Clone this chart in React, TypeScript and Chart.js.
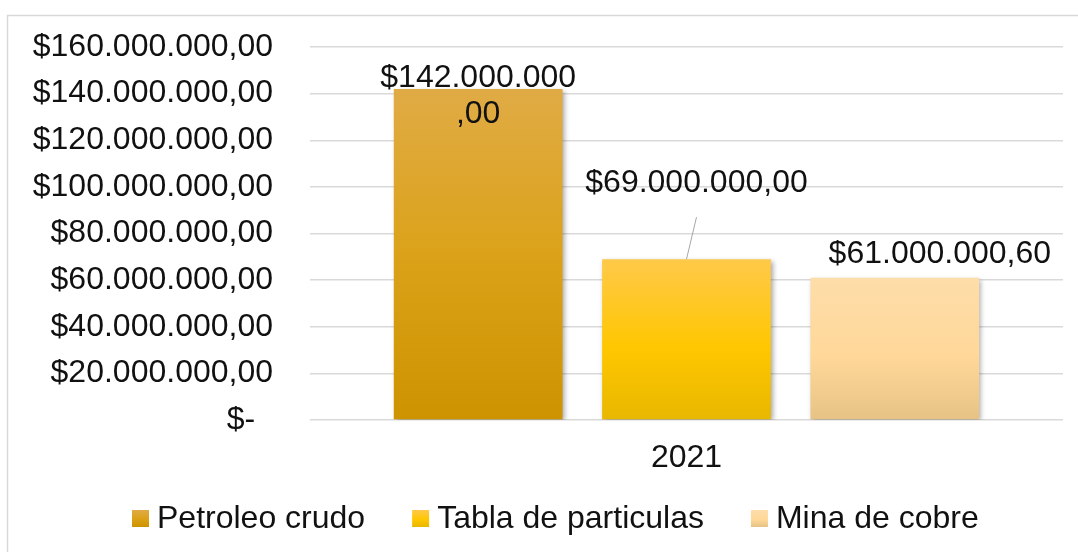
import React, { useEffect, useRef } from "react";
import { Chart, registerables } from "chart.js";

Chart.register(...registerables);

const categories = ["2021"];
const seriesNames = ["Petroleo crudo", "Tabla de particulas", "Mina de cobre"];
const petroleoValues = [142000000];
const tablaValues = [69000000];
const minaValues = [61000000.6];
const yMin = 0;
const yMax = 160000000;
const yStep = 20000000;

const gradientStops: [number, string][][] = [
  [[0, "#E0AB45"], [0.5, "#DBA219"], [1, "#CD9300"]],
  [[0, "#FFC94A"], [0.55, "#FFC700"], [1, "#E8B700"]],
  [[0, "#FDDDA9"], [0.55, "#FFD899"], [1, "#E6C385"]],
];

const FONT = "'Liberation Sans', Arial, sans-serif";

function formatMoney(v: number): string {
  if (v === 0) return "$-  ";
  const [intPart, dec] = v.toFixed(2).split(".");
  const grouped = intPart.replace(/\B(?=(\d{3})+(?!\d))/g, ".");
  return "$" + grouped + "," + dec;
}

function makeGradient(ctx: CanvasRenderingContext2D, top: number, bottom: number, i: number) {
  const g = ctx.createLinearGradient(0, top, 0, bottom);
  gradientStops[i].forEach(([o, c]) => g.addColorStop(o, c));
  return g;
}

const borderPlugin = {
  id: "outerBorder",
  beforeDraw(chart: any) {
    const ctx = chart.ctx;
    ctx.save();
    ctx.strokeStyle = "#d9d9d9";
    ctx.lineWidth = 1.5;
    ctx.strokeRect(7.5, 15.5, 1200, 700);
    ctx.restore();
  },
};

const shadowPlugin = {
  id: "barShadow",
  beforeDatasetDraw(chart: any) {
    const ctx = chart.ctx;
    ctx.save();
    ctx.shadowColor = "rgba(0,0,0,0.35)";
    ctx.shadowBlur = 5;
    ctx.shadowOffsetX = 2;
    ctx.shadowOffsetY = 2;
  },
  afterDatasetDraw(chart: any) {
    chart.ctx.restore();
  },
};

const labelOffsets: { dx: number; dy: number; breakAt: number | null; leader: boolean }[] = [
  { dx: 0, dy: 2, breakAt: 12, leader: false },
  { dx: 10, dy: 67, breakAt: null, leader: true },
  { dx: 45, dy: 15, breakAt: null, leader: false },
];

const dataLabelPlugin = {
  id: "dataLabels",
  afterDatasetsDraw(chart: any) {
    const ctx = chart.ctx;
    ctx.save();
    ctx.font = `32px ${FONT}`;
    ctx.fillStyle = "#111";
    ctx.textAlign = "center";
    ctx.textBaseline = "alphabetic";
    chart.data.datasets.forEach((ds: any, i: number) => {
      const meta = chart.getDatasetMeta(i);
      const el = meta.data[0];
      if (!el) return;
      const text = formatMoney(ds.data[0]);
      const o = labelOffsets[i];
      const x = el.x + o.dx;
      const y = el.y - o.dy;
      if (o.breakAt) {
        ctx.fillText(text.slice(0, o.breakAt), x, y);
        ctx.fillText(text.slice(o.breakAt), x, y + 36);
      } else {
        ctx.fillText(text, x, y);
      }
      if (o.leader) {
        ctx.strokeStyle = "#a6a6a6";
        ctx.lineWidth = 1;
        ctx.beginPath();
        ctx.moveTo(x, y + 25);
        ctx.lineTo(el.x, el.y);
        ctx.stroke();
      }
    });
    ctx.restore();
  },
};

const legendPlugin = {
  id: "customLegend",
  afterDraw(chart: any) {
    const ctx = chart.ctx;
    ctx.save();
    ctx.font = `32px ${FONT}`;
    ctx.textBaseline = "alphabetic";
    ctx.textAlign = "left";
    let x = 132;
    const boxTop = 510;
    const box = 17;
    seriesNames.forEach((name, i) => {
      ctx.fillStyle = makeGradient(ctx, boxTop, boxTop + box, i);
      ctx.fillRect(x, boxTop, box, box);
      ctx.fillStyle = "#111";
      const tx = x + box + 8;
      ctx.fillText(name, tx, 528);
      x = tx + ctx.measureText(name).width + 47;
    });
    ctx.restore();
  },
};

export default function App() {
  const ref = useRef<HTMLCanvasElement | null>(null);
  useEffect(() => {
    if (!ref.current) return;
    const seriesValues = [petroleoValues, tablaValues, minaValues];
    const chart = new Chart(ref.current, {
      type: "bar",
      data: {
        labels: categories,
        datasets: seriesNames.map((name, i) => ({
          label: name,
          data: seriesValues[i],
          backgroundColor: (c: any) => {
            const ch = c.chart;
            if (!ch.chartArea || c.raw === undefined) return gradientStops[i][1][1];
            const top = ch.scales.y.getPixelForValue(c.raw);
            const bottom = ch.scales.y.getPixelForValue(0);
            return makeGradient(ch.ctx, top, bottom, i);
          },
          borderWidth: 0,
          categoryPercentage: 0.83,
          barPercentage: 0.81,
        })),
      },
      options: {
        responsive: false,
        animation: false,
        layout: { padding: { left: 0, top: 47, right: 15, bottom: 0 } },
        plugins: {
          legend: { display: false },
          tooltip: { enabled: false },
          title: { display: false },
        },
        scales: {
          x: {
            grid: { display: false, drawTicks: false },
            border: { display: false },
            ticks: { color: "#111", font: { size: 32, family: FONT }, padding: 19 },
            afterFit: (s: any) => {
              s.height = 132;
              s.paddingLeft = 0;
              s.paddingRight = 0;
            },
          },
          y: {
            min: yMin,
            max: yMax,
            grid: { color: "#d9d9d9", lineWidth: 1.5, drawTicks: false },
            border: { display: false },
            ticks: {
              stepSize: yStep,
              color: "#111",
              font: { size: 32, family: FONT },
              padding: 37,
              callback: (v: any) => formatMoney(Number(v)),
            },
            afterFit: (s: any) => {
              s.width = 310;
              s.paddingTop = 0;
              s.paddingBottom = 0;
            },
          },
        },
      },
      plugins: [borderPlugin, shadowPlugin, dataLabelPlugin, legendPlugin],
    });
    return () => chart.destroy();
  }, []);
  return (
    <div style={{ position: "absolute", left: 0, top: 0, width: 1078, height: 552, background: "#fff" }}>
      <canvas ref={ref} width={1078} height={552} style={{ display: "block" }} />
    </div>
  );
}
